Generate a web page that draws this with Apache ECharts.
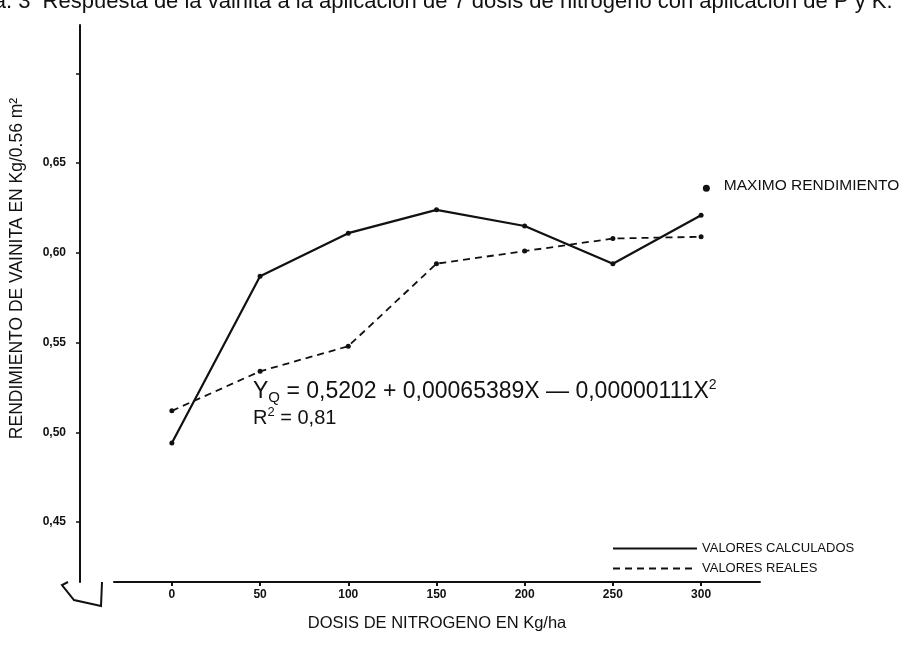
<!DOCTYPE html>
<html>
<head>
<meta charset="utf-8">
<script src="https://cdn.jsdelivr.net/npm/echarts@6/dist/echarts.min.js"></script>
<style>html,body{margin:0;padding:0;background:#fff}#c{width:911px;height:661px}</style>
</head>
<body>
<div id="c"></div>
<script>
const doses = [0, 50, 100, 150, 200, 250, 300];
const calculados = [0.494, 0.587, 0.611, 0.624, 0.615, 0.594, 0.621];
const reales = [0.512, 0.534, 0.548, 0.594, 0.601, 0.608, 0.609];
const maximo = [[303, 0.636]];
const yTickValues = [0.45, 0.50, 0.55, 0.60, 0.65, 0.70];
const yLabelValues = [0.45, 0.50, 0.55, 0.60, 0.65];
const xTickValues = [0, 50, 100, 150, 200, 250, 300];

const chart = echarts.init(document.getElementById('c'), null, {renderer: 'canvas'});
const font = 'Liberation Sans, Arial, sans-serif';
chart.setOption({
  backgroundColor: '#fff',
  animation: false,
  textStyle: {fontFamily: font, color: '#111'},
  title: {
    text: 'Gráfica. 3  Respuesta de la vainita a la aplicación de 7 dosis de nitrógeno con aplicación de P y K.',
    left: -70, top: -14,
    textStyle: {fontSize: 22, fontWeight: 'normal', color: '#111', fontFamily: font}
  },
  grid: {left: 102, right: 151, top: 25, bottom: 79},
  legend: {
    data: ['VALORES CALCULADOS', 'VALORES REALES'],
    orient: 'vertical', left: 607, top: 537,
    itemWidth: 84, itemHeight: 10, itemGap: 7,
    itemStyle: {opacity: 0},
    textStyle: {fontSize: 13, color: '#111', fontFamily: font}
  },
  xAxis: {
    type: 'value', min: -32.8, max: 333.4,
    name: 'DOSIS DE NITROGENO EN Kg/ha', nameLocation: 'middle', nameGap: 33,
    nameTextStyle: {fontSize: 16.5, color: '#111'},
    splitLine: {show: false},
    axisLine: {onZero: false, lineStyle: {color: '#111', width: 2}},
    axisTick: {customValues: xTickValues, length: 4, lineStyle: {color: '#111', width: 2}},
    axisLabel: {customValues: xTickValues, fontSize: 12, fontWeight: 'bold', color: '#111', margin: 7}
  },
  yAxis: {
    type: 'value', min: 0.4166, max: 0.727, offset: 34,
    name: 'RENDIMIENTO DE VAINITA EN Kg/0.56 m²', nameLocation: 'middle', nameGap: 54,
    nameTextStyle: {fontSize: 17.5, color: '#111', padding: [0, 0, 0, 70]},
    splitLine: {show: false},
    axisLine: {show: true, onZero: false, lineStyle: {color: '#111', width: 2}},
    axisTick: {show: true, customValues: yTickValues, length: 4, lineStyle: {color: '#111', width: 1.5}},
    axisLabel: {customValues: yLabelValues, fontSize: 12, fontWeight: 'bold', color: '#111', margin: 14,
      formatter: v => v.toFixed(2).replace('.', ',')}
  },
  series: [
    {
      name: 'VALORES CALCULADOS', type: 'line',
      data: doses.map((d, i) => [d, calculados[i]]),
      symbol: 'circle', symbolSize: 5,
      lineStyle: {color: '#111', width: 2.2},
      itemStyle: {color: '#111'}
    },
    {
      name: 'VALORES REALES', type: 'line',
      data: doses.map((d, i) => [d, reales[i]]),
      symbol: 'circle', symbolSize: 5,
      lineStyle: {color: '#111', width: 1.8, type: [7, 5]},
      itemStyle: {color: '#111'}
    },
    {
      name: 'MAXIMO RENDIMIENTO', type: 'scatter',
      data: maximo, symbol: 'circle', symbolSize: 7,
      itemStyle: {color: '#111', opacity: 1},
      label: {show: true, position: 'right', distance: 14, formatter: 'MAXIMO RENDIMIENTO',
        fontSize: 15.5, color: '#111', fontFamily: font, offset: [0, -3]}
    }
  ],
  graphic: [
    {
      type: 'polyline', silent: true,
      shape: {points: [[68, 582], [62, 585], [74, 600], [101, 606], [102, 582]]},
      style: {stroke: '#111', lineWidth: 2, fill: null}
    },
    {
      type: 'text', left: 253, top: 378, silent: true,
      style: {
        text: '{n|Y}{sub|Q}{n| = 0,5202 + 0,00065389X — 0,00000111X}{sup|2}',
        rich: {
          n: {fontSize: 23, fontFamily: font, fill: '#111', lineHeight: 27, verticalAlign: 'middle'},
          sub: {fontSize: 15, fontFamily: font, fill: '#111', verticalAlign: 'bottom'},
          sup: {fontSize: 14, fontFamily: font, fill: '#111', verticalAlign: 'top'}
        }
      }
    },
    {
      type: 'text', left: 253, top: 406, silent: true,
      style: {
        text: '{n|R}{sup|2}{n| = 0,81}',
        rich: {
          n: {fontSize: 20, fontFamily: font, fill: '#111', lineHeight: 24, verticalAlign: 'middle'},
          sup: {fontSize: 13, fontFamily: font, fill: '#111', verticalAlign: 'top'}
        }
      }
    }
  ]
});
</script>
</body>
</html>
